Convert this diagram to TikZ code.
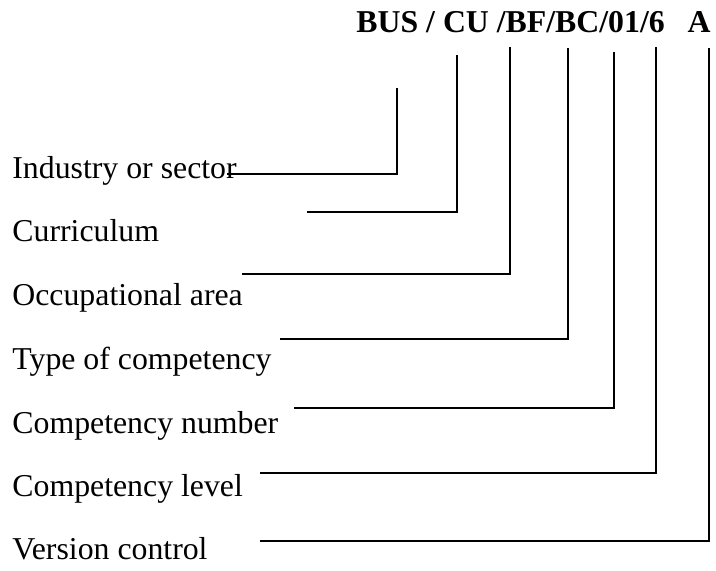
\documentclass[tikz,border=0pt]{standalone}
\usepackage{fontspec}
\setmainfont{Liberation Serif}
\usetikzlibrary{positioning}
\tikzset{
	lbl/.style={anchor=base west, inner sep=0pt, font=\fontsize{15.9}{18}\selectfont},
	codetext/.style={anchor=base west, inner sep=0pt, font=\fontsize{15.9}{18}\selectfont\bfseries},
	conn/.style={draw, line width=0.75pt},
}
\begin{document}
\begin{tikzpicture}[x=0.5pt, y=-0.5pt]
	\useasboundingbox (0,0) rectangle (716,571);
	\node (code) [codetext] at (356,33) {BUS / CU /BF/BC/01/6\hspace{0.72em}A};

	\node (ind) [lbl] at (12,179) {Industry or sector};
	\node (cur) [lbl] at (12,242) {Curriculum};
	\node (occ) [lbl] at (12,306) {Occupational area};
	\node (typ) [lbl] at (12,369) {Type of competency};
	\node (num) [lbl] at (12,433) {Competency number};
	\node (lev) [lbl] at (12,496) {Competency level};
	\node (ver) [lbl] at (12,559) {Version control};

	% tops of the drops under the code
	\coordinate (ind top) at (397,88);
	\coordinate (cur top) at (457,55);
	\coordinate (occ top) at (510,47);
	\coordinate (typ top) at (568,48);
	\coordinate (num top) at (614,52);
	\coordinate (lev top) at (656,47);
	\coordinate (ver top) at (709,48);
	% free ends beside the labels
	\coordinate (ind end) at (227,174);
	\coordinate (cur end) at (307,212);
	\coordinate (occ end) at (242,274);
	\coordinate (typ end) at (280,339);
	\coordinate (num end) at (294,408);
	\coordinate (lev end) at (260,473);
	\coordinate (ver end) at (260,541);

	\begin{scope}[conn]
		\foreach \n in {ind, cur, occ, typ, num, lev, ver}
			\draw (\n\space top) |- (\n\space end);
	\end{scope}
\end{tikzpicture}
\end{document}
